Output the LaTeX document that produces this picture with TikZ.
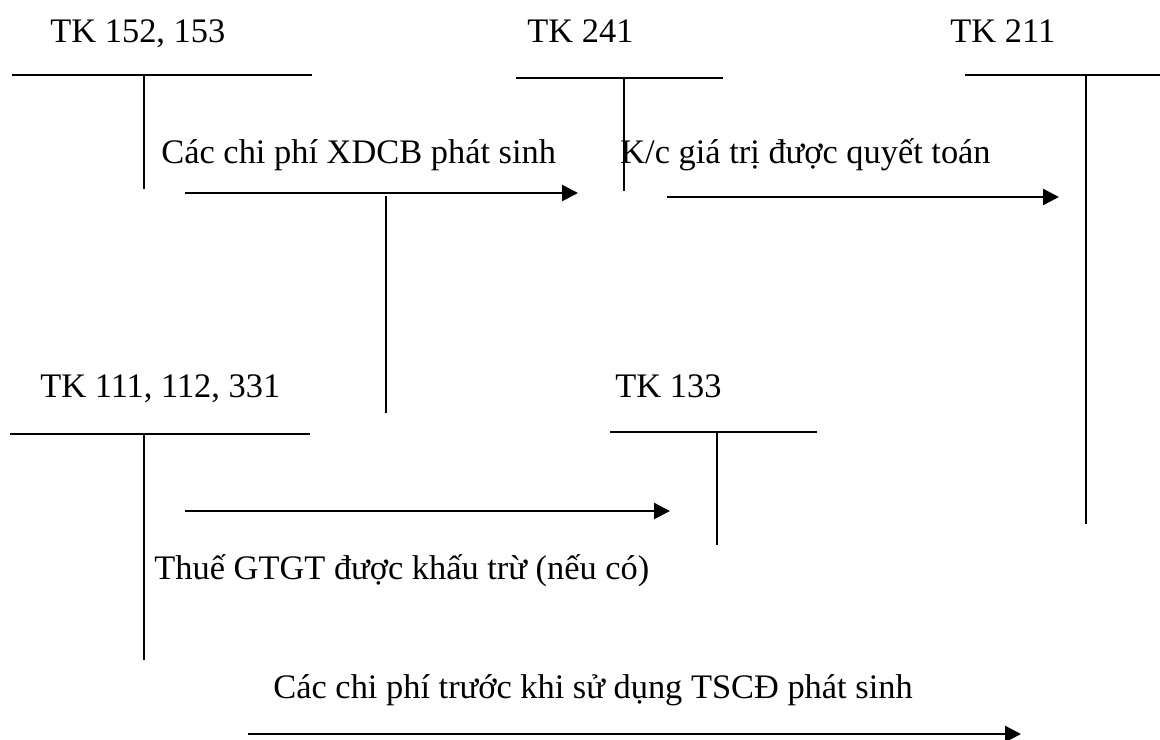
\documentclass[tikz,border=0pt]{standalone}
\usepackage{fontspec}
\setmainfont{Liberation Serif}
\usetikzlibrary{arrows.meta}

\begin{document}
\begin{tikzpicture}[x=0.5pt, y=-0.5pt,
  acct/.style={line width=1pt, line cap=butt},
  flow/.style={line width=1.2pt, -{Triangle[length=8pt,width=8pt]}},
  lbl/.style={anchor=base west, inner sep=0pt, font=\fontsize{17.2pt}{20pt}\selectfont}]
\useasboundingbox (0,0) rectangle (1160,739);

% account titles
\node[lbl] (n152) at (50,42)  {TK 152, 153};
\node[lbl] (n241) at (527,42) {TK 241};
\node[lbl] (n211) at (950,42) {TK 211};
\node[lbl] (n111) at (40,397) {TK 111, 112, 331};
\node[lbl] (n133) at (615,397) {TK 133};

% T-account corners: left end, right end, stem top, stem bottom
\coordinate (a1l) at (12,75);   \coordinate (a1r) at (312,75);
\coordinate (a1t) at (144,75);  \coordinate (a1b) at (144,189);
\coordinate (a2l) at (516,78);  \coordinate (a2r) at (723,78);
\coordinate (a2t) at (624,78);  \coordinate (a2b) at (624,191);
\coordinate (a3l) at (965,75);  \coordinate (a3r) at (1160,75);
\coordinate (a3t) at (1086,75); \coordinate (a3b) at (1086,524);
\coordinate (a4l) at (10,434);  \coordinate (a4r) at (310,434);
\coordinate (a4t) at (144,434); \coordinate (a4b) at (144,660);
\coordinate (a5l) at (610,432); \coordinate (a5r) at (817,432);
\coordinate (a5t) at (717,432); \coordinate (a5b) at (717,545);

\foreach \k in {1,...,5}{
  \draw[acct] (a\k l) -- (a\k r);
  \draw[acct] (a\k t) -- (a\k b);
}

% link between the upper and lower rows
\coordinate (mtop) at (386,196);
\coordinate (mbot) at (386,413);
\draw[acct] (mtop) -- (mbot);

% flow arrows
\coordinate (f1s) at (185,193);  \coordinate (f1e) at (578,193);
\coordinate (f2s) at (667,197);  \coordinate (f2e) at (1059,197);
\coordinate (f3s) at (185,511);  \coordinate (f3e) at (670,511);
\coordinate (f4s) at (248,734);  \coordinate (f4e) at (1021,734);
\draw[flow] (f1s) -- (f1e);
\draw[flow] (f2s) -- (f2e);
\draw[flow] (f3s) -- (f3e);
\draw[flow] (f4s) -- (f4e);

% flow descriptions
\node[lbl] (t1) at (161,163) {Các chi phí XDCB phát sinh};
\node[lbl] (t2) at (620,163) {K/c giá trị được quyết toán};
\node[lbl] (t3) at (154,579) {Thuế GTGT được khấu trừ (nếu có)};
\node[lbl] (t4) at (273,698) {Các chi phí trước khi sử dụng TSCĐ phát sinh};
\end{tikzpicture}
\end{document}
